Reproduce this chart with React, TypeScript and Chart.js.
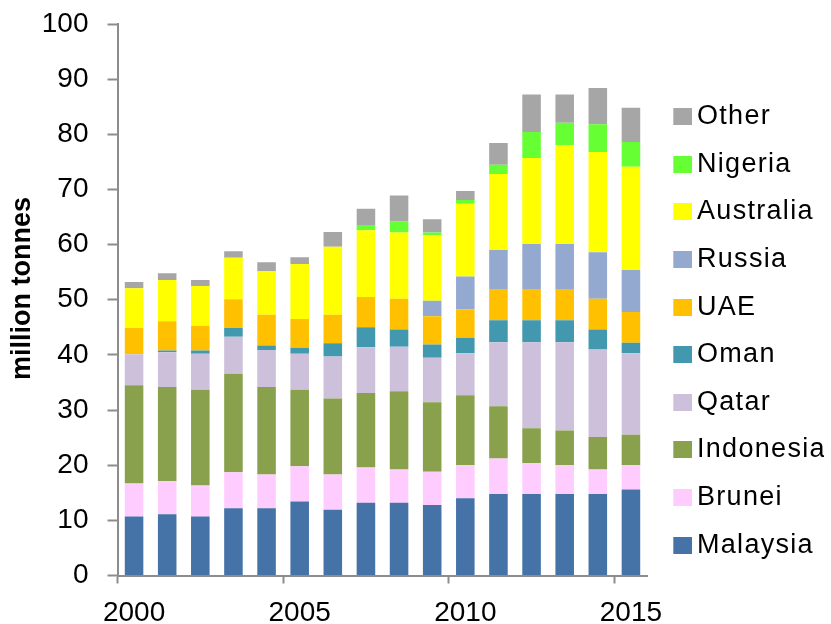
import React, { useEffect, useRef } from 'react';
import { Chart, registerables } from 'chart.js';

Chart.register(...registerables);

const years = ['2000', '2001', '2002', '2003', '2004', '2005', '2006', '2007', '2008', '2009', '2010', '2011', '2012', '2013', '2014', '2015'];
const yTicks = [0, 10, 20, 30, 40, 50, 60, 70, 80, 90, 100];

const malaysia = [10.7, 11.1, 10.7, 12.2, 12.2, 13.4, 11.9, 13.2, 13.2, 12.8, 14.0, 14.8, 14.8, 14.8, 14.8, 15.6];
const brunei = [6.0, 6.0, 5.6, 6.5, 6.1, 6.4, 6.4, 6.4, 6.0, 6.0, 6.0, 6.4, 5.6, 5.2, 4.4, 4.4];
const indonesia = [17.8, 17.1, 17.4, 17.9, 15.9, 13.9, 13.8, 13.5, 14.2, 12.6, 12.7, 9.5, 6.3, 6.3, 5.9, 5.5];
const qatar = [5.6, 6.3, 6.5, 6.7, 6.7, 6.5, 7.6, 8.3, 8.1, 8.1, 7.6, 11.6, 15.6, 16.0, 15.9, 14.8];
const oman = [0, 0.3, 0.6, 1.6, 0.8, 1.1, 2.4, 3.6, 3.1, 2.4, 2.8, 4.0, 4.0, 4.0, 3.6, 1.9];
const uae = [4.8, 5.3, 4.5, 5.2, 5.6, 5.2, 5.2, 5.5, 5.6, 5.1, 5.2, 5.5, 5.5, 5.5, 5.6, 5.6];
const russia = [0, 0, 0, 0, 0, 0, 0, 0, 0, 2.8, 5.9, 7.2, 8.3, 8.3, 8.4, 7.6];
const australia = [7.2, 7.5, 7.2, 7.5, 7.9, 10.0, 12.3, 12.1, 12.0, 11.9, 13.2, 13.8, 15.6, 17.9, 18.2, 18.7];
const nigeria = [0, 0, 0, 0, 0, 0, 0, 0.8, 2.0, 0.5, 0.7, 1.7, 4.7, 4.1, 5.0, 4.5];
const other = [1.1, 1.2, 1.1, 1.2, 1.6, 1.2, 2.7, 3.1, 4.7, 2.4, 1.6, 3.9, 6.8, 5.1, 6.6, 6.2];

const seriesNames = ['Malaysia', 'Brunei', 'Indonesia', 'Qatar', 'Oman', 'UAE', 'Russia', 'Australia', 'Nigeria', 'Other'];
const seriesData = [malaysia, brunei, indonesia, qatar, oman, uae, russia, australia, nigeria, other];
const seriesColors = ['#4572A7', '#FFCCFF', '#89A14D', '#CCC0DA', '#4198AF', '#FFC000', '#93A9CF', '#FFFF00', '#66FF33', '#A6A6A6'];

const FONT = "'Liberation Sans', Arial, sans-serif";
const AXIS = '#8C8C8C';

function makeSwatch(color: string): HTMLCanvasElement {
  const c = document.createElement('canvas');
  c.width = 33;
  c.height = 17;
  const g = c.getContext('2d')!;
  g.fillStyle = color;
  g.fillRect(14, 0, 19, 17);
  return c;
}

const spacingPlugin = {
  id: 'legendSpacing',
  beforeDraw(chart: any) {
    chart.ctx.letterSpacing = '1.3px';
  },
  beforeDatasetsDraw(chart: any) {
    chart.ctx.letterSpacing = '0px';
  },
};

export default function App() {
  const ref = useRef<HTMLCanvasElement>(null);

  useEffect(() => {
    const canvas = ref.current!;
    const swatches = seriesColors.map(makeSwatch);
    const defaultGen = (Chart.defaults as any).plugins.legend.labels.generateLabels;

    const chart = new Chart(canvas, {
      type: 'bar',
      data: {
        labels: years,
        datasets: seriesNames.map((name, i) => ({
          label: name,
          data: seriesData[i],
          backgroundColor: seriesColors[i],
          borderWidth: 0,
          barPercentage: 0.56,
          categoryPercentage: 1,
        })),
      },
      plugins: [spacingPlugin],
      options: {
        responsive: false,
        animation: false,
        layout: { padding: { left: 0, top: 24, right: 6.9, bottom: 0 } },
        scales: {
          x: {
            stacked: true,
            offset: true,
            afterFit: (scale: any) => {
              scale.height = 48.5;
              scale.paddingLeft = 0;
              scale.paddingRight = 0;
            },
            grid: {
              offset: true,
              drawOnChartArea: false,
              drawTicks: true,
              tickLength: 8,
              tickWidth: 2,
              z: 1,
              color: (ctx: any) => (ctx.index % 5 === 0 ? AXIS : 'rgba(0,0,0,0)'),
            },
            border: { display: true, color: AXIS, width: 2, z: 1 },
            ticks: {
              autoSkip: false,
              maxRotation: 0,
              padding: 12.5,
              z: 1,
              color: '#000',
              font: { family: FONT, size: 28 },
              callback: (_v: any, i: number) => (i % 5 === 0 ? years[i] : ''),
            },
          },
          y: {
            stacked: true,
            min: 0,
            max: 100,
            afterBuildTicks: (scale: any) => {
              scale.ticks = yTicks.map((v) => ({ value: v }));
            },
            afterFit: (scale: any) => {
              scale.width = 117.5;
              scale.paddingTop = 0;
              scale.paddingBottom = 0;
            },
            grid: {
              drawOnChartArea: false,
              drawTicks: true,
              tickLength: 10,
              tickWidth: 2,
              z: 1,
              color: AXIS,
            },
            border: { display: true, color: AXIS, width: 2, z: 1 },
            ticks: {
              padding: 19,
              z: 1,
              color: '#000',
              font: { family: FONT, size: 28 },
            },
            title: {
              display: true,
              text: '   million tonnes',
              color: '#000',
              font: { family: FONT, size: 27, weight: 'bold' },
              padding: { top: 6.8, bottom: 0 },
            },
          },
        },
        plugins: {
          tooltip: { enabled: false },
          legend: {
            position: 'right',
            reverse: true,
            title: {
              display: true,
              text: ' ',
              color: 'rgba(0,0,0,0)',
              font: { size: 11.5, lineHeight: 1.2 },
              padding: 0,
            },
            labels: {
              usePointStyle: true,
              pointStyleWidth: 15.4,
              padding: 20.6,
              color: '#000',
              font: { family: FONT, size: 27 },
              generateLabels: (ch: any) =>
                defaultGen(ch).map((item: any) => ({ ...item, pointStyle: swatches[item.datasetIndex] })),
            },
          },
        },
      } as any,
    });

    return () => chart.destroy();
  }, []);

  return (
    <div style={{ position: 'absolute', left: 0, top: 0, width: 831, height: 624, background: '#fff' }}>
      <canvas ref={ref} width={831} height={624} style={{ display: 'block', width: 831, height: 624 }} />
    </div>
  );
}
